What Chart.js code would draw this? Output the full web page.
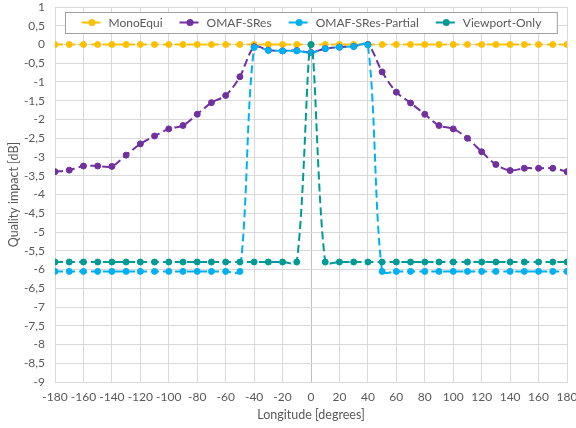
<!DOCTYPE html>
<html>
<head>
<meta charset="utf-8">
<title>Quality impact vs longitude</title>
<script src="https://cdn.jsdelivr.net/npm/chart.js@4/dist/chart.umd.min.js"></script>
<style>
  html, body { margin: 0; padding: 0; background: #ffffff; }
  #wrap { width: 576px; height: 428px; }
</style>
</head>
<body>
<div id="wrap"><canvas id="impactChart" width="576" height="428"></canvas></div>
<script>
// Sampled longitudes (degrees)
const longitudes = [
  -180, -170, -160, -150, -140, -130, -120, -110, -100, -90, -80, -70, -60, -50, -40, -30, -20, -10,
  0, 10, 20, 30, 40, 50, 60, 70, 80, 90, 100, 110, 120, 130, 140, 150, 160, 170, 180
];

// Quality impact per scheme (dB), one value per longitude
const monoEqui = [
  0, 0, 0, 0, 0, 0, 0, 0, 0, 0, 0, 0, 0, 0, 0, 0, 0, 0,
  0, 0, 0, 0, 0, 0, 0, 0, 0, 0, 0, 0, 0, 0, 0, 0, 0, 0, 0
];
const omafSRes = [
  -3.39, -3.35, -3.24, -3.24, -3.25, -2.95, -2.65, -2.44, -2.25, -2.16, -1.86, -1.55, -1.36, -0.86, -0.06, -0.15, -0.17, -0.16,
  -0.21, -0.11, -0.07, -0.05, 0.0, -0.73, -1.27, -1.56, -1.86, -2.16, -2.25, -2.5, -2.86, -3.2, -3.36, -3.3, -3.3, -3.3, -3.39
];
const omafSResPartial = [
  -6.05, -6.05, -6.05, -6.05, -6.05, -6.05, -6.05, -6.05, -6.05, -6.05, -6.05, -6.05, -6.05, -6.05, -0.08, -0.16, -0.17, -0.17,
  -0.22, -0.11, -0.07, -0.05, -0.01, -6.05, -6.05, -6.05, -6.05, -6.05, -6.05, -6.05, -6.05, -6.05, -6.05, -6.05, -6.05, -6.05, -6.05
];
const viewportOnly = [
  -5.8, -5.8, -5.8, -5.8, -5.8, -5.8, -5.8, -5.8, -5.8, -5.8, -5.8, -5.8, -5.8, -5.8, -5.8, -5.8, -5.8, -5.8,
  0, -5.8, -5.8, -5.8, -5.8, -5.8, -5.8, -5.8, -5.8, -5.8, -5.8, -5.8, -5.8, -5.8, -5.8, -5.8, -5.8, -5.8, -5.8
];

const seriesNames = ['MonoEqui', 'OMAF-SRes', 'OMAF-SRes-Partial', 'Viewport-Only'];
const seriesColors = ['#FFC000', '#7030A0', '#00B0F0', '#009A94'];

const FONT = 'Lato, "Open Sans", sans-serif';
const TICK_SIZE = 12;
const LABEL_SIZE = 12.5;
const LEGEND_SIZE = 12;
const TEXT_COLOR = '#595959';
const GRID_COLOR = '#D9D9D9';

/**
 * Turn one value list into {x, y} points on the longitude axis
 */
function toPoints(values) {
  return longitudes.map((lon, i) => ({ x: lon, y: values[i] }));
}

/**
 * Build one dashed, smoothed series with round markers
 */
function makeSeries(index, values) {
  const color = seriesColors[index];
  return {
    label: seriesNames[index],
    data: toPoints(values),
    borderColor: color,
    backgroundColor: color,
    borderWidth: 2,
    borderDash: [8, 4],
    tension: 0.3,
    pointRadius: 3,
    pointBorderWidth: 1,
    pointBackgroundColor: color,
    pointBorderColor: color,
    // later series sit on top, like the original sheet
    order: seriesNames.length - index
  };
}

// Legend drawn as a framed strip inside the plot, above the zero line
const boxLegend = {
  id: 'boxLegend',
  afterDraw(chart) {
    const { ctx, chartArea } = chart;
    const sets = chart.data.datasets;
    const symbolW = 21;
    const symbolGap = 6;
    const itemGap = 17;
    const padX = 16;
    const top = 12;
    const height = 21;
    const midY = top + height / 2;

    ctx.save();
    ctx.font = LEGEND_SIZE + 'px ' + FONT;
    const widths = sets.map(ds => ctx.measureText(ds.label).width);
    const inner = widths.reduce((a, b) => a + b, 0) +
      sets.length * (symbolW + symbolGap) + (sets.length - 1) * itemGap;
    const center = (chartArea.left + chartArea.right) / 2;
    const left = Math.round(center - inner / 2 - padX) + 0.5;

    ctx.fillStyle = '#ffffff';
    ctx.fillRect(left, top + 0.5, inner + padX * 2, height);
    ctx.strokeStyle = '#A0A0A0';
    ctx.lineWidth = 1;
    ctx.strokeRect(left, top + 0.5, inner + padX * 2, height);

    let x = left + padX;
    sets.forEach((ds, i) => {
      ctx.strokeStyle = ds.borderColor;
      ctx.lineWidth = 2;
      ctx.setLineDash([8, 3]);
      ctx.beginPath();
      ctx.moveTo(x, midY);
      ctx.lineTo(x + symbolW, midY);
      ctx.stroke();
      ctx.setLineDash([]);
      ctx.fillStyle = ds.borderColor;
      ctx.beginPath();
      ctx.arc(x + symbolW / 2, midY, 3.5, 0, Math.PI * 2);
      ctx.fill();

      x += symbolW + symbolGap;
      ctx.fillStyle = TEXT_COLOR;
      ctx.textAlign = 'left';
      ctx.textBaseline = 'middle';
      ctx.fillText(ds.label, x, midY + 1);
      x += widths[i] + itemGap;
    });
    ctx.restore();
  }
};

const ctx = document.getElementById('impactChart');

new Chart(ctx, {
  type: 'line',
  data: {
    datasets: [
      makeSeries(0, monoEqui),
      makeSeries(1, omafSRes),
      makeSeries(2, omafSResPartial),
      makeSeries(3, viewportOnly)
    ]
  },
  options: {
    responsive: false,
    animation: false,
    layout: {
      padding: { top: 7, right: 9, bottom: 0, left: 0 }
    },
    plugins: {
      legend: { display: false },
      tooltip: { enabled: false }
    },
    scales: {
      x: {
        type: 'linear',
        min: -180,
        max: 180,
        afterFit: (scale) => {
          scale.height = 46;
          // keep the end labels from shrinking the plot
          scale.paddingLeft = 0;
          scale.paddingRight = 0;
        },
        grid: {
          color: (c) => (c.tick && c.tick.value === 0 ? '#BFBFBF' : GRID_COLOR),
          lineWidth: 1,
          drawTicks: false
        },
        border: { color: GRID_COLOR },
        ticks: {
          stepSize: 20,
          autoSkip: false,
          maxRotation: 0,
          padding: 8,
          color: TEXT_COLOR,
          font: { family: FONT, size: TICK_SIZE }
        },
        title: {
          display: true,
          text: 'Longitude [degrees]',
          color: TEXT_COLOR,
          font: { family: FONT, size: LABEL_SIZE },
          padding: { top: 0, bottom: 6 }
        }
      },
      y: {
        min: -9,
        max: 1,
        afterFit: (scale) => {
          scale.width = 55;
          scale.paddingTop = 0;
          scale.paddingBottom = 0;
        },
        grid: {
          color: GRID_COLOR,
          lineWidth: 1,
          drawTicks: false
        },
        border: { color: GRID_COLOR },
        ticks: {
          stepSize: 0.5,
          autoSkip: false,
          padding: 10,
          color: TEXT_COLOR,
          font: { family: FONT, size: TICK_SIZE },
          callback: (value) => String(Math.round(value * 10) / 10).replace('.', ',')
        },
        title: {
          display: true,
          text: 'Quality impact [dB]',
          color: TEXT_COLOR,
          font: { family: FONT, size: LABEL_SIZE },
          padding: { top: 6, bottom: 0 }
        }
      }
    }
  },
  plugins: [boxLegend]
});
</script>
</body>
</html>
